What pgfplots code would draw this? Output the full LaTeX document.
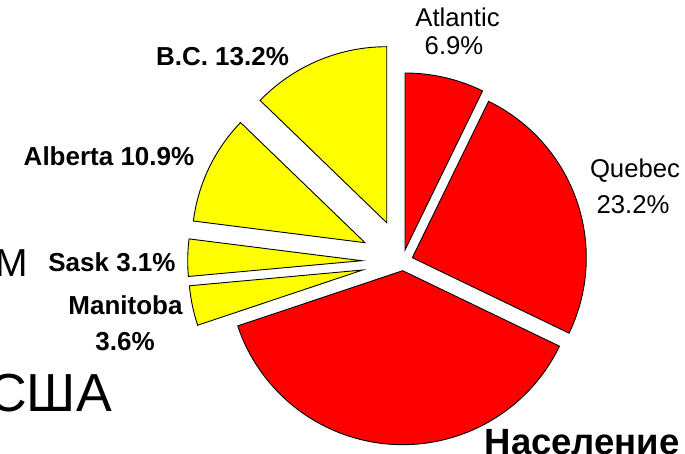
\documentclass[border=0pt]{standalone}
\usepackage{pgfplots}
\pgfplotsset{compat=1.18}
\usepackage{fontspec}
\setmainfont{Liberation Sans}
\definecolor{pr}{RGB}{255,0,0}
\definecolor{py}{RGB}{255,255,0}
\begin{document}
\begin{tikzpicture}
\path[use as bounding box, clip] (0,0) rectangle (685pt,453pt);
\begin{axis}[hide axis, scale only axis, width=685pt, height=453pt,
  xmin=0, xmax=685, ymin=0, ymax=453, clip=false]
% slices: apex (x,y), start/end angle, radius
% Atlantic 6.9%
\addplot[fill=pr, draw=black, line width=0.9pt, domain=64:90, samples=30, variable=\t]
  ({405+177*cos(\t)},{203+177*sin(\t)}) -- (axis cs:405,203) -- cycle;
% Quebec 23.2%
\addplot[fill=pr, draw=black, line width=0.9pt, domain=-25.7:64, samples=80, variable=\t]
  ({412.3+174*cos(\t)},{195.3+174*sin(\t)}) -- (axis cs:412.3,195.3) -- cycle;
% Ontario
\addplot[fill=pr, draw=black, line width=0.9pt, domain=-161.5:-25.7, samples=100, variable=\t]
  ({402.7+174*cos(\t)},{182.3+174*sin(\t)}) -- (axis cs:402.7,182.3) -- cycle;
% Manitoba 3.6%
\addplot[fill=py, draw=black, line width=0.9pt, domain=185.2:198.5, samples=20, variable=\t]
  ({362.7+174*cos(\t)},{183+174*sin(\t)}) -- (axis cs:362.7,183) -- cycle;
% Sask 3.1%
\addplot[fill=py, draw=black, line width=0.9pt, domain=172.8:185.2, samples=20, variable=\t]
  ({361.7+174*cos(\t)},{192.3+174*sin(\t)}) -- (axis cs:361.7,192.3) -- cycle;
% Alberta 10.9%
\addplot[fill=py, draw=black, line width=0.9pt, domain=136:172.8, samples=40, variable=\t]
  ({365+173*cos(\t)},{210.3+173*sin(\t)}) -- (axis cs:365,210.3) -- cycle;
% B.C. 13.2%
\addplot[fill=py, draw=black, line width=0.9pt, domain=90:136, samples=40, variable=\t]
  ({386.7+176*cos(\t)},{230.3+176*sin(\t)}) -- (axis cs:386.7,230.3) -- cycle;

% labels
\node[anchor=base, inner sep=0, font=\fontsize{25.7}{30}\selectfont] at (axis cs:457.5,426) {Atlantic};
\node[anchor=base, inner sep=0, font=\fontsize{25.7}{30}\selectfont] at (axis cs:454,398) {6.9\%};
\node[anchor=base, inner sep=0, font=\fontsize{25.7}{30}\selectfont] at (axis cs:635,275.7) {Quebec};
\node[anchor=base, inner sep=0, font=\fontsize{25.7}{30}\selectfont] at (axis cs:633,239.5) {23.2\%};
\node[anchor=base, inner sep=0, font=\bfseries\fontsize{26}{30}\selectfont] at (axis cs:222.5,387) {B.C. 13.2\%};
\node[anchor=base, inner sep=0, font=\bfseries\fontsize{26}{30}\selectfont] at (axis cs:109,287) {Alberta 10.9\%};
\node[anchor=base, inner sep=0, font=\bfseries\fontsize{26}{30}\selectfont] at (axis cs:112,181.3) {Sask 3.1\%};
\node[anchor=base, inner sep=0, font=\bfseries\fontsize{26}{30}\selectfont] at (axis cs:125.5,139) {Manitoba};
\node[anchor=base, inner sep=0, font=\bfseries\fontsize{26}{30}\selectfont] at (axis cs:125,103) {3.6\%};
% slide fragments
\node[anchor=base west, inner sep=0, font=\fontsize{39}{44}\selectfont] at (axis cs:-4.6,177) {М};
\node[anchor=base east, inner sep=0, font=\fontsize{53.6}{60}\selectfont] at (axis cs:112,41.3) {США};
\node[anchor=base west, inner sep=0, font=\bfseries\fontsize{36.5}{40}\selectfont] at (axis cs:484.5,-1.7) {Население};
\end{axis}
\end{tikzpicture}
\end{document}
